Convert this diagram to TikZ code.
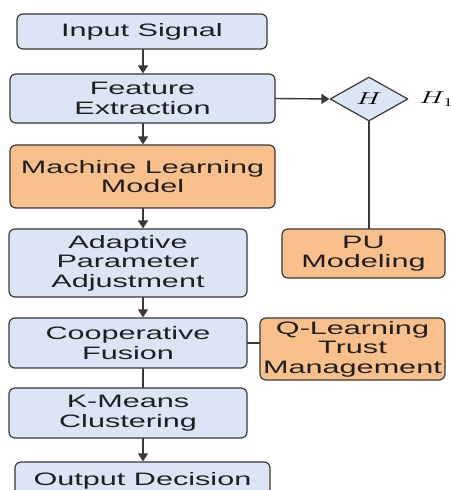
\documentclass[tikz,border=0pt]{standalone}
\usepackage{fontspec}
\setmainfont{Liberation Sans}[FakeStretch=1.7]
\usetikzlibrary{arrows.meta,shapes.geometric}
\definecolor{dbe5f5}{rgb}{0.859,0.898,0.961}
\definecolor{f9c08c}{rgb}{0.976,0.753,0.549}
\definecolor{qqqqqq}{rgb}{0.22,0.22,0.22}
\newcommand{\widemath}[1]{\scalebox{1.7}[1]{$#1$}}

\begin{document}
\begin{tikzpicture}[line cap=round,line join=round,>={Triangle[width=10pt,length=8pt]},x=1pt,y=-1pt,
blue box/.style={draw=qqqqqq,fill=dbe5f5,rounded corners=6pt,line width=1.2pt,align=center,text=black!88,font=\fontsize{18}{19.5}\selectfont,inner sep=1pt},
orange box/.style={blue box,fill=f9c08c},
link/.style={draw=qqqqqq,line width=1.4pt}]
\useasboundingbox (0,0) rectangle (450,490);
\node [blue box,minimum width=250pt,minimum height=35pt] (in) at (142,31.5) {Input Signal};
\node [blue box,minimum width=265pt,minimum height=49pt] (feat) at (142.5,98.5) {Feature\\Extraction};
\node [orange box,minimum width=265pt,minimum height=63pt] (ml) at (142.5,176.5) {Machine Learning\\Model};
\node [blue box,minimum width=238pt,minimum height=68pt] (adapt) at (128,263) {Adaptive\\Parameter\\Adjustment};
\node [blue box,minimum width=238pt,minimum height=50pt] (coop) at (128,343) {Cooperative\\Fusion};
\node [blue box,minimum width=238pt,minimum height=50pt] (kmeans) at (128,413) {K-Means\\Clustering};
\node [blue box,minimum width=255pt,minimum height=38pt] (out) at (142.5,481) {Output Decision};
\node [orange box,minimum width=163pt,minimum height=49pt] (pu) at (363.5,253.5) {PU\\Modeling};
\node [orange box,minimum width=185pt,minimum height=62pt] (ql) at (352.5,349) {Q-Learning\\Trust\\Management};
\node [diamond,draw=qqqqqq,fill=dbe5f5,line width=1.2pt,inner sep=0pt,minimum width=78pt,minimum height=44pt] (dia) at (369,99) {\fontsize{18}{18}\selectfont\widemath{H}};
\node [anchor=west,inner sep=0pt,font=\fontsize{18}{18}\selectfont] (h1) at (419,99) {\widemath{H_1}};
\coordinate (axis) at (143,0);
\foreach \a/\b in {in/feat,feat/ml,ml/adapt,adapt/coop,kmeans/out}
\draw [->,link] (\a.south -| axis) -- (\b.north -| axis);
\draw [link] (coop.south -| axis) -- (kmeans.north -| axis);
\draw [->,link] (feat.east) -- (dia.west);
\draw [link] (dia.south) -- (dia.south |- pu.north);
\draw [link] (coop.east) -- (coop.east -| ql.west);
\end{tikzpicture}
\end{document}
